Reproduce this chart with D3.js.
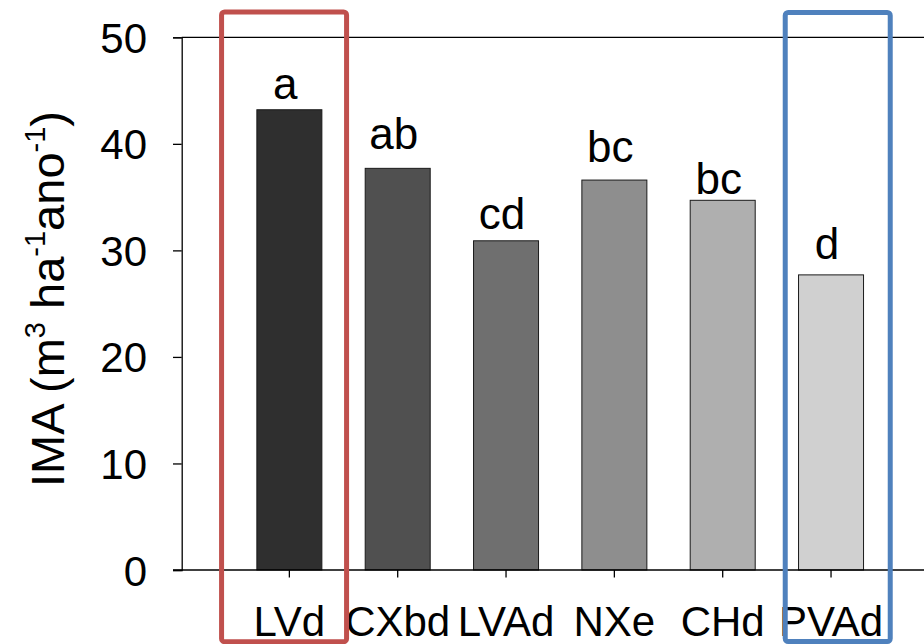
<!DOCTYPE html>
<html>
<head>
<meta charset="utf-8">
<script src="https://cdn.jsdelivr.net/npm/d3@7"></script>
<style>
  body { margin: 0; background: #fff; }
  svg { display: block; font-family: "Liberation Sans", Arial, sans-serif; }
</style>
</head>
<body>
<svg width="924" height="644"></svg>
<script>
// values
const categories = ["LVd", "CXbd", "LVAd", "NXe", "CHd", "PVAd"];
const ima = [43.2, 37.7, 30.9, 36.6, 34.7, 27.7];
const letters = ["a", "ab", "cd", "bc", "bc", "d"];
const letterAt = [44.2, 39.5, 32.0, 38.3, 35.3, 29.2];   // baseline of each letter, in IMA units
const fills = ["#2f2f2f", "#505050", "#6f6f6f", "#8e8e8e", "#afafaf", "#d0d0d0"];
const yTicks = [0, 10, 20, 30, 40, 50];

const svg = d3.select("svg");

const y = d3.scaleLinear().domain([0, 50]).range([570, 37.3]);
const x = d3.scaleBand().domain(categories).range([235.2, 885.2])
    .paddingInner(0.4).paddingOuter(0.2);
const axisX = 181.7;

// top border
svg.append("line")
    .attr("x1", axisX).attr("x2", 930)
    .attr("y1", y(50)).attr("y2", y(50))
    .attr("stroke", "#000").attr("stroke-width", 1.3);

// bars
svg.selectAll("rect.bar")
    .data(categories)
    .join("rect")
    .classed("bar", true)
    .attr("x", d => x(d))
    .attr("width", x.bandwidth())
    .attr("y", (d, i) => y(ima[i]))
    .attr("height", (d, i) => y(0) - y(ima[i]))
    .attr("fill", (d, i) => fills[i])
    .attr("stroke", "#1a1a1a")
    .attr("stroke-width", 1);

// y axis
const gy = svg.append("g")
    .attr("transform", `translate(${axisX},0)`)
    .call(d3.axisLeft(y).tickValues(yTicks).tickSize(8.7).tickPadding(26));
gy.select(".domain").attr("stroke-width", 1.3);
gy.selectAll(".tick line").attr("stroke-width", 1.3);
gy.selectAll(".tick text")
    .attr("font-size", 42)
    .attr("font-family", "Liberation Sans, Arial, sans-serif")
    .attr("dy", 15)
    .attr("fill", "#000");

// x axis
const gx = svg.append("g")
    .attr("transform", `translate(0,${y(0)})`)
    .call(d3.axisBottom(x).tickSize(7.5).tickPadding(0));
gx.select(".domain").remove();
gx.selectAll(".tick line").attr("stroke-width", 1.3);
gx.selectAll(".tick text")
    .attr("font-size", 42)
    .attr("font-family", "Liberation Sans, Arial, sans-serif")
    .attr("y", 66)
    .attr("dy", 0)
    .attr("fill", "#000");
svg.append("line")
    .attr("x1", 173).attr("x2", 930)
    .attr("y1", y(0)).attr("y2", y(0))
    .attr("stroke", "#000").attr("stroke-width", 1.3);

// significance letters
svg.selectAll("text.letter")
    .data(categories)
    .join("text")
    .classed("letter", true)
    .attr("x", d => x(d) + x.bandwidth() / 2 - 4)
    .attr("y", (d, i) => y(letterAt[i]))
    .attr("text-anchor", "middle")
    .attr("font-size", 44)
    .attr("fill", "#000")
    .text((d, i) => letters[i]);

// y title with superscripts
const title = svg.append("text")
    .attr("transform", "translate(64,299) rotate(-90)")
    .attr("text-anchor", "middle")
    .attr("font-size", 47)
    .attr("fill", "#000");
const parts = [
    ["IMA (m", false], ["3", true], [" ha", false], ["-1", true],
    ["ano", false], ["-1", true], [")", false]
];
parts.forEach(([t, sup], i) => {
    const prevSup = i > 0 && parts[i - 1][1];
    title.append("tspan")
        .attr("font-size", sup ? 29 : 47)
        .attr("dy", sup ? -19 : (prevSup ? 19 : 0))
        .text(t);
});

// highlight boxes
svg.append("rect")
    .attr("x", x("LVd") - 35.3).attr("y", 12)
    .attr("width", 125).attr("height", 629.7)
    .attr("rx", 3)
    .attr("fill", "none").attr("stroke", "#c0504d").attr("stroke-width", 5);
svg.append("rect")
    .attr("x", x("PVAd") - 13.3).attr("y", 12.5)
    .attr("width", 105).attr("height", 629)
    .attr("rx", 3)
    .attr("fill", "none").attr("stroke", "#4f81bd").attr("stroke-width", 5);
</script>
</body>
</html>
